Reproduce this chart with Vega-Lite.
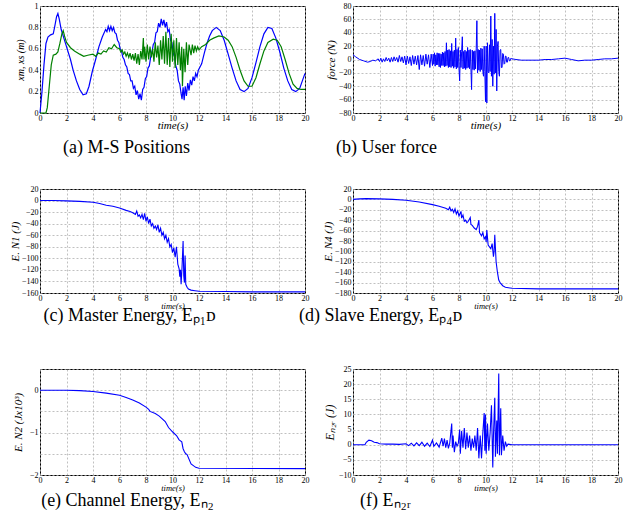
{
"$schema":"https://vega.github.io/schema/vega-lite/v6.json",
"background":"white",
"padding":{"left":8,"top":1,"right":2,"bottom":5},
"bounds":"flush",
"columns":2,
"spacing":{"row":76,"column":48},
"config":{
 "view":{"stroke":"black","strokeWidth":1},
 "axis":{"labelFont":"Liberation Serif","labelFontSize":8,"labelColor":"black","titleFont":"Liberation Serif","titleFontStyle":"italic","titleFontWeight":"normal","titleColor":"black","domain":false,"grid":true,"gridColor":"#b0b0b0","gridDash":[2,2],"gridWidth":0.8,"ticks":false,"labelPadding":2,"labelFlush":false,"labelOverlap":false,"format":"~f"},
 "axisX":{"labelPadding":1,"titlePadding":-1},
 "title":{"font":"Liberation Serif","fontStyle":"normal","fontSize":18,"fontWeight":"normal","orient":"bottom","anchor":"middle","frame":"group","color":"black"},
 "line":{"strokeWidth":1.1,"clip":true,"color":"#0000ff"}
},
"datasets":{
"a":[
{"s":"xm","t":0,"v":0},{"s":"xm","t":0.15,"v":0.2},{"s":"xm","t":0.3,"v":0.45},{"s":"xm","t":0.45,"v":0.65},{"s":"xm","t":0.6,"v":0.71},{"s":"xm","t":0.8,"v":0.73},{"s":"xm","t":1.0,"v":0.74},{"s":"xm","t":1.1,"v":0.8},{"s":"xm","t":1.25,"v":0.9},{"s":"xm","t":1.35,"v":0.93},{"s":"xm","t":1.45,"v":0.88},{"s":"xm","t":1.6,"v":0.78},{"s":"xm","t":1.8,"v":0.7},{"s":"xm","t":2.0,"v":0.62},{"s":"xm","t":2.3,"v":0.5},{"s":"xm","t":2.5,"v":0.4},{"s":"xm","t":2.75,"v":0.3},{"s":"xm","t":3.0,"v":0.22},{"s":"xm","t":3.25,"v":0.17},{"s":"xm","t":3.5,"v":0.18},{"s":"xm","t":3.7,"v":0.25},{"s":"xm","t":3.95,"v":0.39},{"s":"xm","t":4.2,"v":0.5},{"s":"xm","t":4.45,"v":0.62},{"s":"xm","t":4.7,"v":0.71},{"s":"xm","t":4.95,"v":0.78},{"s":"xm","t":5.05,"v":0.76},{"s":"xm","t":5.15,"v":0.81},{"s":"xm","t":5.25,"v":0.77},{"s":"xm","t":5.35,"v":0.81},{"s":"xm","t":5.45,"v":0.77},{"s":"xm","t":5.55,"v":0.8},{"s":"xm","t":5.65,"v":0.75},{"s":"xm","t":5.75,"v":0.74},{"s":"xm","t":5.85,"v":0.68},{"s":"xm","t":5.95,"v":0.66},{"s":"xm","t":6.05,"v":0.6},{"s":"xm","t":6.15,"v":0.58},{"s":"xm","t":6.25,"v":0.52},{"s":"xm","t":6.35,"v":0.5},{"s":"xm","t":6.45,"v":0.45},{"s":"xm","t":6.55,"v":0.43},{"s":"xm","t":6.65,"v":0.37},{"s":"xm","t":6.75,"v":0.36},{"s":"xm","t":6.85,"v":0.3},{"s":"xm","t":6.95,"v":0.3},{"s":"xm","t":7.05,"v":0.23},{"s":"xm","t":7.15,"v":0.25},{"s":"xm","t":7.25,"v":0.17},{"s":"xm","t":7.35,"v":0.21},{"s":"xm","t":7.45,"v":0.13},{"s":"xm","t":7.55,"v":0.18},{"s":"xm","t":7.65,"v":0.12},{"s":"xm","t":7.75,"v":0.22},{"s":"xm","t":7.85,"v":0.24},{"s":"xm","t":7.95,"v":0.32},{"s":"xm","t":8.05,"v":0.34},{"s":"xm","t":8.15,"v":0.42},{"s":"xm","t":8.25,"v":0.44},{"s":"xm","t":8.35,"v":0.52},{"s":"xm","t":8.45,"v":0.57},{"s":"xm","t":8.55,"v":0.64},{"s":"xm","t":8.65,"v":0.66},{"s":"xm","t":8.75,"v":0.75},{"s":"xm","t":8.85,"v":0.76},{"s":"xm","t":8.95,"v":0.84},{"s":"xm","t":9.05,"v":0.8},{"s":"xm","t":9.15,"v":0.88},{"s":"xm","t":9.25,"v":0.82},{"s":"xm","t":9.35,"v":0.87},{"s":"xm","t":9.45,"v":0.8},{"s":"xm","t":9.55,"v":0.85},{"s":"xm","t":9.65,"v":0.76},{"s":"xm","t":9.75,"v":0.78},{"s":"xm","t":9.85,"v":0.68},{"s":"xm","t":9.95,"v":0.66},{"s":"xm","t":10.05,"v":0.56},{"s":"xm","t":10.15,"v":0.53},{"s":"xm","t":10.25,"v":0.44},{"s":"xm","t":10.35,"v":0.4},{"s":"xm","t":10.45,"v":0.3},{"s":"xm","t":10.55,"v":0.27},{"s":"xm","t":10.65,"v":0.18},{"s":"xm","t":10.72,"v":0.13},{"s":"xm","t":10.8,"v":0.24},{"s":"xm","t":10.88,"v":0.12},{"s":"xm","t":10.96,"v":0.25},{"s":"xm","t":11.05,"v":0.16},{"s":"xm","t":11.15,"v":0.28},{"s":"xm","t":11.25,"v":0.21},{"s":"xm","t":11.35,"v":0.31},{"s":"xm","t":11.45,"v":0.26},{"s":"xm","t":11.55,"v":0.34},{"s":"xm","t":11.65,"v":0.3},{"s":"xm","t":11.75,"v":0.37},{"s":"xm","t":11.85,"v":0.34},{"s":"xm","t":11.95,"v":0.4},{"s":"xm","t":12.2,"v":0.46},{"s":"xm","t":12.4,"v":0.56},{"s":"xm","t":12.6,"v":0.65},{"s":"xm","t":12.8,"v":0.72},{"s":"xm","t":13.0,"v":0.77},{"s":"xm","t":13.3,"v":0.8},{"s":"xm","t":13.6,"v":0.77},{"s":"xm","t":13.9,"v":0.68},{"s":"xm","t":14.2,"v":0.55},{"s":"xm","t":14.5,"v":0.42},{"s":"xm","t":14.8,"v":0.3},{"s":"xm","t":15.1,"v":0.22},{"s":"xm","t":15.4,"v":0.2},{"s":"xm","t":15.7,"v":0.23},{"s":"xm","t":16.0,"v":0.33},{"s":"xm","t":16.3,"v":0.47},{"s":"xm","t":16.6,"v":0.62},{"s":"xm","t":16.9,"v":0.74},{"s":"xm","t":17.2,"v":0.8},{"s":"xm","t":17.5,"v":0.79},{"s":"xm","t":17.8,"v":0.7},{"s":"xm","t":18.1,"v":0.57},{"s":"xm","t":18.4,"v":0.42},{"s":"xm","t":18.7,"v":0.3},{"s":"xm","t":19.0,"v":0.22},{"s":"xm","t":19.3,"v":0.2},{"s":"xm","t":19.6,"v":0.23},{"s":"xm","t":19.8,"v":0.3},{"s":"xm","t":20.0,"v":0.37},
{"s":"xs","t":0,"v":0},{"s":"xs","t":0.45,"v":0},{"s":"xs","t":0.55,"v":0.05},{"s":"xs","t":0.7,"v":0.25},{"s":"xs","t":0.85,"v":0.45},{"s":"xs","t":1.0,"v":0.54},{"s":"xs","t":1.2,"v":0.55},{"s":"xs","t":1.35,"v":0.57},{"s":"xs","t":1.5,"v":0.65},{"s":"xs","t":1.65,"v":0.74},{"s":"xs","t":1.75,"v":0.77},{"s":"xs","t":1.85,"v":0.72},{"s":"xs","t":2.0,"v":0.66},{"s":"xs","t":2.3,"v":0.61},{"s":"xs","t":2.6,"v":0.58},{"s":"xs","t":3.0,"v":0.55},{"s":"xs","t":3.3,"v":0.53},{"s":"xs","t":3.6,"v":0.54},{"s":"xs","t":4.0,"v":0.55},{"s":"xs","t":4.2,"v":0.53},{"s":"xs","t":4.4,"v":0.56},{"s":"xs","t":4.6,"v":0.55},{"s":"xs","t":4.8,"v":0.58},{"s":"xs","t":5.0,"v":0.57},{"s":"xs","t":5.2,"v":0.61},{"s":"xs","t":5.4,"v":0.6},{"s":"xs","t":5.6,"v":0.64},{"s":"xs","t":5.8,"v":0.61},{"s":"xs","t":6.0,"v":0.6},{"s":"xs","t":6.1,"v":0.57},{"s":"xs","t":6.2,"v":0.59},{"s":"xs","t":6.3,"v":0.55},{"s":"xs","t":6.4,"v":0.57},{"s":"xs","t":6.5,"v":0.53},{"s":"xs","t":6.6,"v":0.56},{"s":"xs","t":6.7,"v":0.52},{"s":"xs","t":6.8,"v":0.56},{"s":"xs","t":6.9,"v":0.5},{"s":"xs","t":7.0,"v":0.55},{"s":"xs","t":7.1,"v":0.49},{"s":"xs","t":7.2,"v":0.56},{"s":"xs","t":7.3,"v":0.46},{"s":"xs","t":7.4,"v":0.55},{"s":"xs","t":7.5,"v":0.45},{"s":"xs","t":7.6,"v":0.58},{"s":"xs","t":7.7,"v":0.5},{"s":"xs","t":7.8,"v":0.7},{"s":"xs","t":7.85,"v":0.5},{"s":"xs","t":7.9,"v":0.62},{"s":"xs","t":8.0,"v":0.48},{"s":"xs","t":8.1,"v":0.64},{"s":"xs","t":8.2,"v":0.5},{"s":"xs","t":8.3,"v":0.62},{"s":"xs","t":8.4,"v":0.52},{"s":"xs","t":8.5,"v":0.6},{"s":"xs","t":8.6,"v":0.48},{"s":"xs","t":8.7,"v":0.66},{"s":"xs","t":8.8,"v":0.52},{"s":"xs","t":8.9,"v":0.63},{"s":"xs","t":9.0,"v":0.45},{"s":"xs","t":9.1,"v":0.68},{"s":"xs","t":9.2,"v":0.5},{"s":"xs","t":9.3,"v":0.72},{"s":"xs","t":9.4,"v":0.46},{"s":"xs","t":9.5,"v":0.76},{"s":"xs","t":9.6,"v":0.45},{"s":"xs","t":9.7,"v":0.7},{"s":"xs","t":9.8,"v":0.43},{"s":"xs","t":9.9,"v":0.74},{"s":"xs","t":10.0,"v":0.48},{"s":"xs","t":10.1,"v":0.68},{"s":"xs","t":10.2,"v":0.42},{"s":"xs","t":10.3,"v":0.7},{"s":"xs","t":10.4,"v":0.45},{"s":"xs","t":10.5,"v":0.66},{"s":"xs","t":10.6,"v":0.4},{"s":"xs","t":10.7,"v":0.62},{"s":"xs","t":10.75,"v":0.25},{"s":"xs","t":10.85,"v":0.6},{"s":"xs","t":10.95,"v":0.38},{"s":"xs","t":11.05,"v":0.66},{"s":"xs","t":11.15,"v":0.45},{"s":"xs","t":11.25,"v":0.64},{"s":"xs","t":11.4,"v":0.54},{"s":"xs","t":11.5,"v":0.64},{"s":"xs","t":11.6,"v":0.56},{"s":"xs","t":11.7,"v":0.63},{"s":"xs","t":11.8,"v":0.58},{"s":"xs","t":11.9,"v":0.62},{"s":"xs","t":12.0,"v":0.59},{"s":"xs","t":12.2,"v":0.62},{"s":"xs","t":12.5,"v":0.64},{"s":"xs","t":12.8,"v":0.68},{"s":"xs","t":13.1,"v":0.7},{"s":"xs","t":13.5,"v":0.72},{"s":"xs","t":13.9,"v":0.71},{"s":"xs","t":14.2,"v":0.68},{"s":"xs","t":14.5,"v":0.62},{"s":"xs","t":14.8,"v":0.52},{"s":"xs","t":15.1,"v":0.4},{"s":"xs","t":15.4,"v":0.3},{"s":"xs","t":15.7,"v":0.25},{"s":"xs","t":16.0,"v":0.25},{"s":"xs","t":16.3,"v":0.33},{"s":"xs","t":16.6,"v":0.46},{"s":"xs","t":16.9,"v":0.58},{"s":"xs","t":17.2,"v":0.66},{"s":"xs","t":17.6,"v":0.69},{"s":"xs","t":17.9,"v":0.68},{"s":"xs","t":18.2,"v":0.62},{"s":"xs","t":18.5,"v":0.5},{"s":"xs","t":18.8,"v":0.37},{"s":"xs","t":19.1,"v":0.27},{"s":"xs","t":19.4,"v":0.23},{"s":"xs","t":19.7,"v":0.22},{"s":"xs","t":20.0,"v":0.22}
],
"b":[
{"t":0,"v":7},{"t":0.2,"v":4},{"t":0.5,"v":0},{"t":0.8,"v":-2},{"t":1.1,"v":-4},{"t":1.3,"v":-3},{"t":1.5,"v":-1},{"t":1.7,"v":-2},{"t":1.9,"v":1},{"t":2.0,"v":-3},{"t":2.1,"v":2},{"t":2.2,"v":-4},{"t":2.3,"v":1},{"t":2.4,"v":-3},{"t":2.5,"v":3},{"t":2.6,"v":-2},{"t":2.7,"v":2},{"t":2.8,"v":-4},{"t":2.9,"v":3},{"t":3.0,"v":-3},{"t":3.1,"v":4},{"t":3.2,"v":-2},{"t":3.3,"v":3},{"t":3.4,"v":-4},{"t":3.5,"v":6},{"t":3.6,"v":-3},{"t":3.7,"v":4},{"t":3.8,"v":-5},{"t":3.9,"v":5},{"t":4.0,"v":-8},{"t":4.1,"v":5},{"t":4.2,"v":-6},{"t":4.3,"v":4},{"t":4.4,"v":-9},{"t":4.5,"v":6},{"t":4.6,"v":-7},{"t":4.7,"v":5},{"t":4.8,"v":-8},{"t":4.9,"v":6},{"t":5.0,"v":-15},{"t":5.1,"v":7},{"t":5.2,"v":-8},{"t":5.3,"v":6},{"t":5.4,"v":-10},{"t":5.5,"v":8},{"t":5.6,"v":-7},{"t":5.7,"v":7},{"t":5.8,"v":-12},{"t":5.9,"v":8},
{"t":6.0,"v":-9},{"t":6.05,"v":8},{"t":6.1,"v":-7},{"t":6.15,"v":10},{"t":6.2,"v":-10},{"t":6.25,"v":7},{"t":6.3,"v":-8},{"t":6.35,"v":10},{"t":6.4,"v":-8},{"t":6.45,"v":9},{"t":6.5,"v":-11},{"t":6.55,"v":9},{"t":6.6,"v":-12},{"t":6.65,"v":8},{"t":6.7,"v":-9},{"t":6.75,"v":11},{"t":6.8,"v":-9},{"t":6.85,"v":10},{"t":6.9,"v":-11},{"t":6.95,"v":12},{"t":7.0,"v":-10},{"t":7.05,"v":25},{"t":7.1,"v":-9},{"t":7.15,"v":14},{"t":7.2,"v":-12},{"t":7.25,"v":15},{"t":7.3,"v":-11},{"t":7.35,"v":13},{"t":7.4,"v":-12},{"t":7.45,"v":24},{"t":7.5,"v":-10},{"t":7.55,"v":12},{"t":7.6,"v":-13},{"t":7.65,"v":14},{"t":7.7,"v":-11},{"t":7.75,"v":32},{"t":7.8,"v":-14},{"t":7.85,"v":15},{"t":7.9,"v":-12},{"t":7.95,"v":18},{"t":8.0,"v":-14},{"t":8.05,"v":-32},{"t":8.1,"v":14},{"t":8.15,"v":-12},{"t":8.2,"v":12},{"t":8.25,"v":34},{"t":8.3,"v":-14},{"t":8.35,"v":12},{"t":8.4,"v":-13},{"t":8.45,"v":14},{"t":8.5,"v":-15},{"t":8.55,"v":12},{"t":8.6,"v":-13},{"t":8.65,"v":18},{"t":8.7,"v":-12},{"t":8.75,"v":14},{"t":8.8,"v":-14},{"t":8.85,"v":15},{"t":8.9,"v":-13},{"t":8.95,"v":-45},{"t":9.0,"v":14},{"t":9.05,"v":-15},{"t":9.1,"v":12},{"t":9.15,"v":-16},{"t":9.2,"v":13},{"t":9.25,"v":-14},{"t":9.3,"v":16},{"t":9.35,"v":58},{"t":9.4,"v":-20},{"t":9.45,"v":15},{"t":9.5,"v":-16},{"t":9.55,"v":14},{"t":9.6,"v":-18},{"t":9.65,"v":17},{"t":9.7,"v":-15},{"t":9.75,"v":16},{"t":9.8,"v":-18},{"t":9.85,"v":-25},{"t":9.9,"v":20},{"t":9.95,"v":-18},{"t":10.0,"v":-63},{"t":10.05,"v":20},{"t":10.1,"v":-65},{"t":10.15,"v":25},{"t":10.2,"v":-18},{"t":10.25,"v":-20},{"t":10.3,"v":22},{"t":10.35,"v":-18},{"t":10.4,"v":65},{"t":10.45,"v":-25},{"t":10.5,"v":30},{"t":10.55,"v":-40},{"t":10.6,"v":20},{"t":10.65,"v":-22},{"t":10.7,"v":69},{"t":10.75,"v":-20},{"t":10.8,"v":45},{"t":10.85,"v":-47},{"t":10.9,"v":20},{"t":10.95,"v":27},{"t":11.0,"v":-18},{"t":11.05,"v":-25},{"t":11.1,"v":14},{"t":11.15,"v":15},{"t":11.2,"v":-12},{"t":11.25,"v":-12},{"t":11.3,"v":9},{"t":11.35,"v":8},{"t":11.4,"v":-7},{"t":11.45,"v":-6},{"t":11.5,"v":5},{"t":11.55,"v":5},{"t":11.6,"v":-4},{"t":11.65,"v":-4},{"t":11.7,"v":3},{"t":11.75,"v":3},{"t":11.8,"v":-2},{"t":11.85,"v":-2},{"t":11.9,"v":1.5},{"t":12.0,"v":1},
{"t":12.3,"v":0},{"t":12.7,"v":-1},{"t":13.0,"v":-1},{"t":13.5,"v":-1},{"t":14.0,"v":-1},{"t":14.5,"v":0},{"t":15.0,"v":0},{"t":15.5,"v":1},{"t":16.0,"v":2},{"t":16.5,"v":0},{"t":17.0,"v":-2},{"t":17.5,"v":-1},{"t":18.0,"v":-1},{"t":18.5,"v":0},{"t":19.0,"v":1},{"t":19.5,"v":1},{"t":20.0,"v":2}
],
"c":[
{"t":0,"v":0},{"t":1,"v":0},{"t":2,"v":-0.5},{"t":3,"v":-1.5},{"t":4,"v":-3},{"t":4.5,"v":-5},{"t":5,"v":-8},{"t":5.5,"v":-10},{"t":6,"v":-13},{"t":6.5,"v":-17},{"t":6.8,"v":-19},{"t":7.0,"v":-21},{"t":7.2,"v":-24},{"t":7.3,"v":-18},{"t":7.4,"v":-27},{"t":7.5,"v":-25},{"t":7.6,"v":-30},{"t":7.7,"v":-24},{"t":7.8,"v":-33},{"t":7.9,"v":-22},{"t":8.0,"v":-36},{"t":8.1,"v":-28},{"t":8.2,"v":-40},{"t":8.3,"v":-32},{"t":8.4,"v":-44},{"t":8.5,"v":-40},{"t":8.6,"v":-48},{"t":8.7,"v":-44},{"t":8.8,"v":-50},{"t":8.9,"v":-42},{"t":9.0,"v":-55},{"t":9.1,"v":-48},{"t":9.2,"v":-60},{"t":9.3,"v":-55},{"t":9.4,"v":-66},{"t":9.5,"v":-60},{"t":9.6,"v":-72},{"t":9.7,"v":-66},{"t":9.8,"v":-80},{"t":9.9,"v":-76},{"t":10.0,"v":-90},{"t":10.1,"v":-82},{"t":10.2,"v":-98},{"t":10.3,"v":-80},{"t":10.4,"v":-110},{"t":10.5,"v":-118},{"t":10.55,"v":-132},{"t":10.6,"v":-120},{"t":10.65,"v":-145},{"t":10.72,"v":-115},{"t":10.8,"v":-70},{"t":10.85,"v":-130},{"t":10.9,"v":-142},{"t":10.95,"v":-95},{"t":11.0,"v":-145},{"t":11.1,"v":-150},{"t":11.2,"v":-153},{"t":11.4,"v":-155},{"t":11.7,"v":-156},{"t":12,"v":-157},{"t":14,"v":-157.5},{"t":16,"v":-158},{"t":18,"v":-158},{"t":20,"v":-158}
],
"d":[
{"t":0,"v":0},{"t":0.5,"v":1},{"t":1,"v":1.5},{"t":2,"v":1},{"t":3,"v":0},{"t":4,"v":-1.5},{"t":5,"v":-5},{"t":6,"v":-10},{"t":6.5,"v":-13},{"t":7.0,"v":-17},{"t":7.2,"v":-20},{"t":7.3,"v":-15},{"t":7.4,"v":-22},{"t":7.5,"v":-19},{"t":7.6,"v":-25},{"t":7.7,"v":-18},{"t":7.8,"v":-28},{"t":7.9,"v":-22},{"t":8.0,"v":-32},{"t":8.15,"v":-23},{"t":8.2,"v":-36},{"t":8.3,"v":-30},{"t":8.4,"v":-42},{"t":8.5,"v":-40},{"t":8.6,"v":-45},{"t":8.7,"v":-42},{"t":8.85,"v":-35},{"t":8.9,"v":-48},{"t":9.0,"v":-50},{"t":9.15,"v":-55},{"t":9.3,"v":-58},{"t":9.4,"v":-52},{"t":9.5,"v":-40},{"t":9.55,"v":-64},{"t":9.7,"v":-70},{"t":9.8,"v":-64},{"t":9.9,"v":-76},{"t":10.0,"v":-72},{"t":10.05,"v":-82},{"t":10.1,"v":-59},{"t":10.2,"v":-88},{"t":10.4,"v":-95},{"t":10.5,"v":-85},{"t":10.6,"v":-110},{"t":10.65,"v":-100},{"t":10.7,"v":-68},{"t":10.8,"v":-120},{"t":10.9,"v":-140},{"t":11.0,"v":-155},{"t":11.1,"v":-160},{"t":11.3,"v":-166},{"t":11.5,"v":-169},{"t":12,"v":-171},{"t":14,"v":-172},{"t":20,"v":-172}
],
"e":[
{"t":0,"v":0},{"t":2,"v":0},{"t":3,"v":-0.01},{"t":4,"v":-0.03},{"t":5,"v":-0.07},{"t":6,"v":-0.12},{"t":6.5,"v":-0.17},{"t":7,"v":-0.23},{"t":7.5,"v":-0.3},{"t":8,"v":-0.4},{"t":8.2,"v":-0.45},{"t":8.3,"v":-0.5},{"t":8.7,"v":-0.55},{"t":9,"v":-0.61},{"t":9.45,"v":-0.74},{"t":9.7,"v":-0.88},{"t":10,"v":-0.98},{"t":10.3,"v":-1.07},{"t":10.5,"v":-1.17},{"t":10.7,"v":-1.22},{"t":10.8,"v":-1.38},{"t":10.9,"v":-1.45},{"t":11.0,"v":-1.5},{"t":11.1,"v":-1.52},{"t":11.4,"v":-1.74},{"t":11.75,"v":-1.82},{"t":12,"v":-1.84},{"t":20,"v":-1.85}
],
"f":[
{"t":0,"v":0},{"t":0.9,"v":0},{"t":1.0,"v":0.8},{"t":1.2,"v":1.5},{"t":1.4,"v":1.3},{"t":1.6,"v":0.8},{"t":1.8,"v":0.7},{"t":2.0,"v":0.3},{"t":2.5,"v":0.2},{"t":3,"v":0.2},{"t":3.5,"v":0.1},{"t":4,"v":0.3},{"t":4.2,"v":-0.3},{"t":4.4,"v":0.5},{"t":4.6,"v":-0.4},{"t":4.8,"v":0.6},{"t":5.0,"v":-0.3},{"t":5.2,"v":0.8},{"t":5.4,"v":-0.5},{"t":5.6,"v":0.5},{"t":5.8,"v":-0.6},{"t":6.0,"v":1.5},{"t":6.1,"v":-0.5},{"t":6.3,"v":0.6},{"t":6.5,"v":-0.8},{"t":6.7,"v":2.2},{"t":6.8,"v":-0.5},{"t":6.9,"v":2},{"t":7.0,"v":-1},{"t":7.1,"v":1.5},{"t":7.2,"v":-1.2},{"t":7.3,"v":0.5},{"t":7.45,"v":7},{"t":7.5,"v":-1},{"t":7.55,"v":3},{"t":7.65,"v":-2.5},{"t":7.75,"v":1},{"t":7.85,"v":-0.5},{"t":7.95,"v":0.5},{"t":8.05,"v":5},{"t":8.1,"v":-3},{"t":8.2,"v":4.5},{"t":8.3,"v":-1},{"t":8.4,"v":5.5},{"t":8.5,"v":-1.5},{"t":8.6,"v":4},{"t":8.7,"v":-1},{"t":8.8,"v":3},{"t":8.9,"v":-2},{"t":9.0,"v":2},{"t":9.1,"v":-1},{"t":9.2,"v":3},{"t":9.3,"v":-2},{"t":9.4,"v":5.5},{"t":9.5,"v":-4.5},{"t":9.6,"v":3},{"t":9.7,"v":-4.5},{"t":9.8,"v":4},{"t":9.9,"v":10.5},{"t":9.95,"v":-2},{"t":10.0,"v":10},{"t":10.05,"v":-3},{"t":10.15,"v":7},{"t":10.25,"v":-2},{"t":10.35,"v":4},{"t":10.45,"v":13},{"t":10.55,"v":-7.5},{"t":10.6,"v":3},{"t":10.7,"v":15.5},{"t":10.75,"v":-4},{"t":10.85,"v":8},{"t":10.9,"v":-3},{"t":11.0,"v":23.5},{"t":11.05,"v":-3.5},{"t":11.15,"v":12},{"t":11.2,"v":-3.5},{"t":11.3,"v":3},{"t":11.4,"v":-2},{"t":11.5,"v":1},{"t":11.6,"v":-0.5},{"t":11.7,"v":0.2},{"t":12,"v":0},{"t":20,"v":0}
]
},
"concat":[
 {"width":265,"height":107,"data":{"name":"a"},"mark":{"type":"line","strokeWidth":1.2},
  "encoding":{
   "x":{"field":"t","type":"quantitative","scale":{"domain":[0,20],"nice":false},"axis":{"values":[0,2,4,6,8,10,12,14,16,18,20],"title":"time(s)","titleFontSize":11,"titlePadding":-3}},
   "y":{"field":"v","type":"quantitative","scale":{"domain":[0,1],"nice":false},"axis":{"values":[0,0.2,0.4,0.6,0.8,1],"title":"xm, xs (m)","titleFontSize":10,"titlePadding":3}},
   "color":{"field":"s","type":"nominal","scale":{"domain":["xm","xs"],"range":["#0000ff","#008000"]},"legend":null}},
  "title":{"text":"(a) M-S Positions","dx":-46,"offset":9}},
 {"width":265,"height":107,"data":{"name":"b"},"mark":{"type":"line","strokeWidth":1},
  "encoding":{
   "x":{"field":"t","type":"quantitative","scale":{"domain":[0,20],"nice":false},"axis":{"values":[0,2,4,6,8,10,12,14,16,18,20],"title":"time(s)","titleFontSize":11,"titlePadding":-3}},
   "y":{"field":"v","type":"quantitative","scale":{"domain":[-80,80],"nice":false},"axis":{"values":[-80,-60,-40,-20,0,20,40,60,80],"title":"force (N)","titleFontSize":11,"titlePadding":2}}},
  "title":{"text":"(b) User force","dx":-99,"offset":9}},
 {"width":265,"height":104,"data":{"name":"c"},"mark":{"type":"line","strokeWidth":1.1},
  "encoding":{
   "x":{"field":"t","type":"quantitative","scale":{"domain":[0,20],"nice":false},"axis":{"values":[0,2,4,6,8,10,12,14,16,18,20],"title":"time(s)","titleFontSize":8.5}},
   "y":{"field":"v","type":"quantitative","scale":{"domain":[-160,20],"nice":false},"axis":{"values":[-160,-140,-120,-100,-80,-60,-40,-20,0,20],"title":"E. N1 (J)","titleFontSize":11,"titlePadding":1}}},
  "title":{"text":"(c) Master Energy, Eₚ₁ᴅ","dx":-43,"offset":-3}},
 {"width":265,"height":104,"data":{"name":"d"},"mark":{"type":"line","strokeWidth":1.1},
  "encoding":{
   "x":{"field":"t","type":"quantitative","scale":{"domain":[0,20],"nice":false},"axis":{"values":[0,2,4,6,8,10,12,14,16,18,20],"title":"time(s)","titleFontSize":8.5}},
   "y":{"field":"v","type":"quantitative","scale":{"domain":[-180,20],"nice":false},"axis":{"values":[-180,-160,-140,-120,-100,-80,-60,-40,-20,0,20],"title":"E. N4 (J)","titleFontSize":11,"titlePadding":1}}},
  "title":{"text":"(d) Slave Energy, Eₚ₄ᴅ","dx":-105,"offset":-3}},
 {"width":265,"height":106,"data":{"name":"e"},"mark":{"type":"line","strokeWidth":1.1},
  "encoding":{
   "x":{"field":"t","type":"quantitative","scale":{"domain":[0,20],"nice":false},"axis":{"values":[0,2,4,6,8,10,12,14,16,18,20],"title":"time(s)","titleFontSize":8.5}},
   "y":{"field":"v","type":"quantitative","scale":{"domain":[-2,0.5],"nice":false},"axis":{"values":[-2,-1.5,-1,-0.5,0,0.5],"labelExpr":"datum.value % 1 === 0 ? datum.label : ''","title":"E. N2 (Jx10³)","titleFontSize":11,"titlePadding":6}}},
  "title":{"text":"(e) Channel Energy, Eₙ₂","dx":-45,"offset":0}},
 {"width":265,"height":106,"data":{"name":"f"},"mark":{"type":"line","strokeWidth":1.1},
  "encoding":{
   "x":{"field":"t","type":"quantitative","scale":{"domain":[0,20],"nice":false},"axis":{"values":[0,2,4,6,8,10,12,14,16,18,20],"title":"time(s)","titleFontSize":8.5}},
   "y":{"field":"v","type":"quantitative","scale":{"domain":[-10,25],"nice":false},"axis":{"values":[-10,-5,0,5,10,15,20,25],"title":"Eₙ₂ᵣ (J)","titleFontSize":12,"titlePadding":2}}},
  "title":{"text":"(f) Eₙ₂ᵣ","dx":-100,"offset":0}}
]
}
